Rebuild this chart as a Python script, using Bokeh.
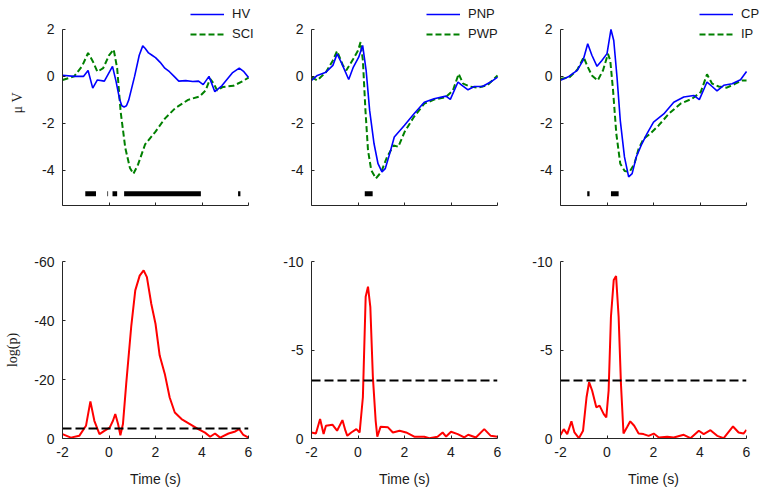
from bokeh.plotting import figure
from bokeh.models import Range1d, FixedTicker, Legend, LegendItem, Span
from bokeh.layouts import row, column
from bokeh.embed import file_html
from bokeh.resources import INLINE

# ---------------- data ----------------
X_TICKS = [-2, 0, 2, 4, 6]
X_LABELS = ["-2", "0", "2", "4", "6"]
TOP_Y_TICKS = [-4, -2, 0, 2]
TOP_Y_LABELS = ["-4", "-2", "0", "2"]
BL_Y_TICKS = [0, -20, -40, -60]
BL_Y_LABELS = ["0", "-20", "-40", "-60"]
BR_Y_TICKS = [0, -5, -10]
BR_Y_LABELS = ["0", "-5", "-10"]

# Panel 1: HV vs SCI
HV_t = [-2.0, -1.5, -1.1, -0.9, -0.7, -0.5, -0.2, 0.15, 0.3, 0.45, 0.55, 0.65, 0.75, 0.85,
        1.1, 1.3, 1.45, 1.55, 1.7, 1.85, 2.0, 2.2, 2.4, 2.6, 2.8, 3.0, 3.3, 3.6, 3.85, 4.05,
        4.3, 4.55, 4.85, 5.3, 5.6, 5.8, 6.0]
HV_v = [0.05, 0.0, 0.0, 0.25, -0.5, -0.15, -0.2, 0.43, -0.2, -0.95, -1.25, -1.3, -1.25, -1.0,
        0.0, 0.9, 1.3, 1.2, 1.0, 0.9, 0.8, 0.6, 0.35, 0.2, 0.0, -0.2, -0.18, -0.22, -0.2, -0.35,
        0.0, -0.65, -0.4, 0.15, 0.35, 0.2, -0.05]
SCI_t = [-2.0, -1.5, -1.15, -0.9, -0.7, -0.5, -0.25, 0.0, 0.2, 0.35, 0.5, 0.7, 0.9, 1.05,
         1.25, 1.55, 2.0, 2.4, 2.85, 3.4, 3.9, 4.15, 4.35, 4.5, 4.65, 4.9, 5.35, 5.75, 6.0]
SCI_v = [-0.15, 0.0, 0.45, 1.0, 0.65, 0.2, 0.35, 0.9, 1.15, 0.35, -1.5, -3.05, -3.9, -4.15,
         -3.75, -2.9, -2.35, -1.8, -1.35, -1.0, -0.85, -0.6, -0.1, -0.3, -0.6, -0.45, -0.4, -0.2, -0.05]
SIG1_start = [-1.02, -0.07, 0.15, 0.65, 5.55]
SIG1_end = [-0.56, -0.04, 0.35, 3.95, 5.65]

# Panel 2: PNP vs PWP
PNP_t = [-2.0, -1.75, -1.38, -1.08, -0.9, -0.72, -0.4, -0.2, 0.03, 0.2, 0.35, 0.5, 0.69, 0.86,
         1.03, 1.17, 1.36, 1.56, 2.0, 2.4, 2.85, 3.27, 3.78, 3.97, 4.3, 4.47, 4.73, 5.0, 5.35, 5.7, 6.0]
PNP_v = [-0.17, 0.04, 0.18, 0.47, 0.96, 0.6, -0.13, 0.4, 0.82, 1.32, 0.25, -1.45, -2.87, -3.72,
         -4.07, -3.93, -3.3, -2.58, -2.08, -1.6, -1.1, -0.95, -0.84, -0.98, -0.24, -0.38, -0.57,
         -0.43, -0.43, -0.24, -0.03]
PWP_t = [-2.0, -1.75, -1.38, -1.08, -0.9, -0.65, -0.5, -0.2, 0.0, 0.11, 0.21, 0.32, 0.43, 0.57,
         0.77, 1.0, 1.25, 1.53, 1.73, 2.0, 2.4, 2.85, 3.27, 3.78, 4.08, 4.33, 4.52, 4.8, 5.15,
         5.56, 5.85, 6.0]
PWP_v = [-0.03, -0.17, 0.18, 0.68, 1.08, 0.47, 0.26, 0.75, 1.1, 1.46, 0.68, -1.45, -3.15, -4.0,
         -4.35, -4.07, -3.43, -2.94, -3.0, -2.37, -1.73, -1.16, -0.99, -0.88, -0.6, 0.11, -0.31,
         -0.43, -0.48, -0.38, -0.1, 0.04]
SIG2_start = [0.29]
SIG2_end = [0.63]

# Panel 3: CP vs IP
CP_t = [-2.0, -1.64, -1.28, -1.03, -0.83, -0.65, -0.43, -0.22, 0.0, 0.17, 0.29, 0.43, 0.57,
        0.75, 0.93, 1.08, 1.26, 1.5, 1.72, 2.0, 2.44, 2.87, 3.3, 3.73, 3.97, 4.3, 4.52, 4.73,
        5.02, 5.38, 5.74, 6.0]
CP_v = [-0.17, 0.0, 0.26, 0.68, 1.39, 0.9, 0.43, 0.68, 0.97, 2.0, 1.53, -0.03, -1.87, -3.43,
        -4.28, -4.14, -3.43, -2.87, -2.44, -1.95, -1.6, -1.1, -0.88, -0.81, -0.99, -0.24, -0.43,
        -0.62, -0.38, -0.31, -0.14, 0.21]
IP_t = [-2.0, -1.64, -1.28, -1.0, -0.86, -0.65, -0.4, -0.17, 0.04, 0.14, 0.26, 0.4, 0.57, 0.76,
        0.97, 1.18, 1.36, 1.58, 1.86, 2.22, 2.65, 3.16, 3.66, 4.03, 4.3, 4.52, 4.8, 5.15, 5.52,
        5.8, 6.0]
IP_v = [-0.1, -0.06, 0.28, 0.82, 0.47, 0.04, -0.17, 0.26, 0.96, 0.68, -0.6, -2.44, -3.72, -4.03,
        -4.07, -3.72, -3.08, -2.65, -2.44, -2.09, -1.6, -1.16, -0.95, -0.67, 0.09, -0.31, -0.43,
        -0.48, -0.31, -0.17, -0.17]
SIG3_start = [-0.85, 0.17]
SIG3_end = [-0.75, 0.5]
SIG_LEVEL = -5.0

# Bottom panels: log(p)
P1_t = [-2.0, -1.64, -1.28, -0.99, -0.8, -0.63, -0.41, -0.2, 0.03, 0.17, 0.27, 0.39, 0.49, 0.6,
        0.74, 0.96, 1.13, 1.32, 1.49, 1.63, 1.82, 2.0, 2.18, 2.4, 2.61, 2.83, 3.12, 3.48, 3.84,
        4.13, 4.35, 4.56, 4.78, 5.14, 5.43, 5.6, 5.78, 6.0]
P1_v = [-1.5, -0.3, -0.9, -4.3, -12.6, -6.0, -1.5, -2.6, -3.7, -6.0, -8.3, -4.9, -1.1, -4.9,
        -18.5, -38.3, -50.2, -55.2, -57.0, -54.7, -45.6, -38.9, -28.1, -21.9, -13.9, -8.8, -6.6,
        -4.9, -3.2, -2.0, -0.6, -1.7, -0.3, -1.7, -2.4, -3.2, -1.2, -0.3]
P2_t = [-2.0, -1.81, -1.63, -1.48, -1.38, -1.1, -0.9, -0.67, -0.54, -0.46, -0.29, -0.07, 0.07,
        0.21, 0.33, 0.43, 0.53, 0.64, 0.76, 0.83, 0.97, 1.29, 1.5, 1.79, 2.07, 2.42, 2.85, 3.07,
        3.42, 3.64, 3.79, 4.0, 4.29, 4.57, 4.74, 5.07, 5.43, 5.71, 6.0]
P2_v = [-0.34, -0.28, -1.1, -0.25, -0.72, -0.78, -0.44, -1.04, -0.44, -0.15, -0.34, -0.53, -0.34,
        -2.33, -8.01, -8.58, -7.44, -3.47, -1.0, -0.1, -0.66, -0.63, -0.34, -0.44, -0.34, -0.1,
        -0.1, -0.02, -0.1, -0.34, -0.11, -0.38, -0.25, -0.06, -0.21, -0.06, -0.53, -0.15, -0.1]
P3_t = [-2.0, -1.86, -1.71, -1.53, -1.4, -1.21, -1.03, -0.88, -0.77, -0.64, -0.46, -0.32, -0.14,
        -0.03, 0.07, 0.17, 0.29, 0.39, 0.5, 0.6, 0.71, 0.86, 1.0, 1.17, 1.36, 1.57, 1.79, 2.01,
        2.23, 2.59, 2.87, 3.3, 3.59, 3.95, 4.16, 4.45, 4.74, 5.02, 5.42, 5.66, 5.87, 6.0]
P3_v = [-0.19, -0.53, -0.25, -0.97, -0.34, -0.02, -0.44, -2.33, -3.18, -2.71, -1.76, -1.86, -1.38,
        -1.19, -2.71, -6.88, -8.96, -9.18, -6.88, -3.09, -0.28, -0.63, -0.97, -0.72, -0.28, -0.25,
        -0.15, -0.28, -0.06, -0.1, -0.06, -0.21, -0.02, -0.44, -0.25, -0.47, -0.15, -0.02, -0.68,
        -0.34, -0.28, -0.49]
THRESH = [-3.4, -3.28, -3.28]

# ---------------- styling ----------------
AXC = "#262626"
TXT = "#1a1a1a"
BLUE = "#0000ff"
GREEN = "#008000"
RED = "#ff0000"
SANS = "Liberation Sans"
SERIF = "Liberation Serif"


def make_fig(w, h, xr, yr, bl, br, bt, bb):
    p = figure(width=w, height=h, x_range=xr, y_range=yr,
               output_backend="svg", toolbar_location=None,
               min_border_left=bl, min_border_right=br,
               min_border_top=bt, min_border_bottom=bb)
    p.outline_line_color = None
    p.grid.visible = False
    p.background_fill_color = "white"
    p.border_fill_color = "white"
    for ax in (p.xaxis[0], p.yaxis[0]):
        ax.axis_line_color = AXC
        ax.axis_line_width = 1
        ax.major_tick_line_color = AXC
        ax.major_tick_in = 3
        ax.major_tick_out = 0
        ax.minor_tick_line_color = None
        ax.major_label_text_font = SANS
        ax.major_label_text_font_size = "14px"
        ax.major_label_text_color = TXT
        ax.major_label_standoff = 8
    p.xaxis[0].ticker = FixedTicker(ticks=X_TICKS)
    p.xaxis[0].bounds = (X_TICKS[0], X_TICKS[-1])
    return p


def set_yticks(p, ticks, labels):
    p.yaxis[0].ticker = FixedTicker(ticks=ticks)
    p.yaxis[0].major_label_overrides = {t: l for t, l in zip(ticks, labels)}


def add_legend(p, items, x, y):
    lg = Legend(items=items, location=(x, y), background_fill_alpha=0,
                border_line_color=None, padding=0, margin=0, spacing=5,
                glyph_width=34, glyph_height=14, label_height=14,
                label_standoff=8, label_text_font=SANS,
                label_text_font_size="13px", label_text_color=TXT)
    p.add_layout(lg)


TOP_H = 240
BOT_H = 252
W1, W2, W3 = 280, 249, 237
TOP_FRAME_H = 205

top_figs = []
panels = [
    (HV_t, HV_v, SCI_t, SCI_v, "HV", "SCI", SIG1_start, SIG1_end, W1, 62, 18),
    (PNP_t, PNP_v, PWP_t, PWP_v, "PNP", "PWP", SIG2_start, SIG2_end, W2, 31, 18),
    (CP_t, CP_v, IP_t, IP_v, "CP", "IP", SIG3_start, SIG3_end, W3, 31, 6),
]
leg_x = [128, 115, 139]
for i, (t1, v1, t2, v2, n1, n2, s0, s1, w, bl, br) in enumerate(panels):
    p = make_fig(w, TOP_H, Range1d(-2, 6.6), Range1d(-5.5, 3.234), bl, br, 0, TOP_H - TOP_FRAME_H)
    set_yticks(p, TOP_Y_TICKS, TOP_Y_LABELS)
    p.yaxis[0].bounds = (-5.5, 2)
    p.xaxis[0].major_label_overrides = {t: "" for t in X_TICKS}
    p.xaxis[0].major_label_text_font_size = "1px"
    p.xaxis[0].major_label_standoff = 0
    r2 = p.line(t2, v2, line_color=GREEN, line_width=2, line_dash="6 3")
    r1 = p.line(t1, v1, line_color=BLUE, line_width=1.6)
    p.segment(x0=s0, y0=[SIG_LEVEL] * len(s0), x1=s1, y1=[SIG_LEVEL] * len(s0),
              line_color="black", line_width=5, line_cap="butt")
    add_legend(p, [LegendItem(label=n1, renderers=[r1]), LegendItem(label=n2, renderers=[r2])],
               leg_x[i], 164)
    if i == 0:
        p.yaxis[0].axis_label = "\u03bc V"
        p.yaxis[0].axis_label_text_font = SERIF
        p.yaxis[0].axis_label_text_font_style = "normal"
        p.yaxis[0].axis_label_text_font_size = "14px"
        p.yaxis[0].axis_label_text_color = TXT
        p.yaxis[0].axis_label_standoff = 14
    top_figs.append(p)

bot_figs = []
bpanels = [
    (P1_t, P1_v, Range1d(0, -60), BL_Y_TICKS, BL_Y_LABELS, W1, 62, 32, THRESH[0]),
    (P2_t, P2_v, Range1d(0, -10), BR_Y_TICKS, BR_Y_LABELS, W2, 31, 32, THRESH[1]),
    (P3_t, P3_v, Range1d(0, -10), BR_Y_TICKS, BR_Y_LABELS, W3, 31, 20, THRESH[2]),
]
for i, (t, v, yr, yt, yl, w, bl, br, th) in enumerate(bpanels):
    p = make_fig(w, BOT_H, Range1d(-2, 6), yr, bl, br, 21, BOT_H - 21 - 177)
    set_yticks(p, yt, yl)
    p.xaxis[0].major_label_overrides = {tt: l for tt, l in zip(X_TICKS, X_LABELS)}
    p.xaxis[0].axis_label = "Time (s)"
    p.xaxis[0].axis_label_text_font = SANS
    p.xaxis[0].axis_label_text_font_style = "normal"
    p.xaxis[0].axis_label_text_font_size = "14px"
    p.xaxis[0].axis_label_text_color = TXT
    p.xaxis[0].axis_label_standoff = 11
    p.line(t, v, line_color=RED, line_width=2)
    p.add_layout(Span(location=th, dimension="width", line_color="black",
                      line_width=2, line_dash="9 4"))
    if i == 0:
        p.yaxis[0].axis_label = "log(p)"
        p.yaxis[0].axis_label_text_font = SERIF
        p.yaxis[0].axis_label_text_font_style = "normal"
        p.yaxis[0].axis_label_text_font_size = "14px"
        p.yaxis[0].axis_label_text_color = TXT
        p.yaxis[0].axis_label_standoff = 11
    bot_figs.append(p)

layout = column(row(*top_figs), row(*bot_figs))
open("out.html", "w").write(file_html(layout, INLINE))
